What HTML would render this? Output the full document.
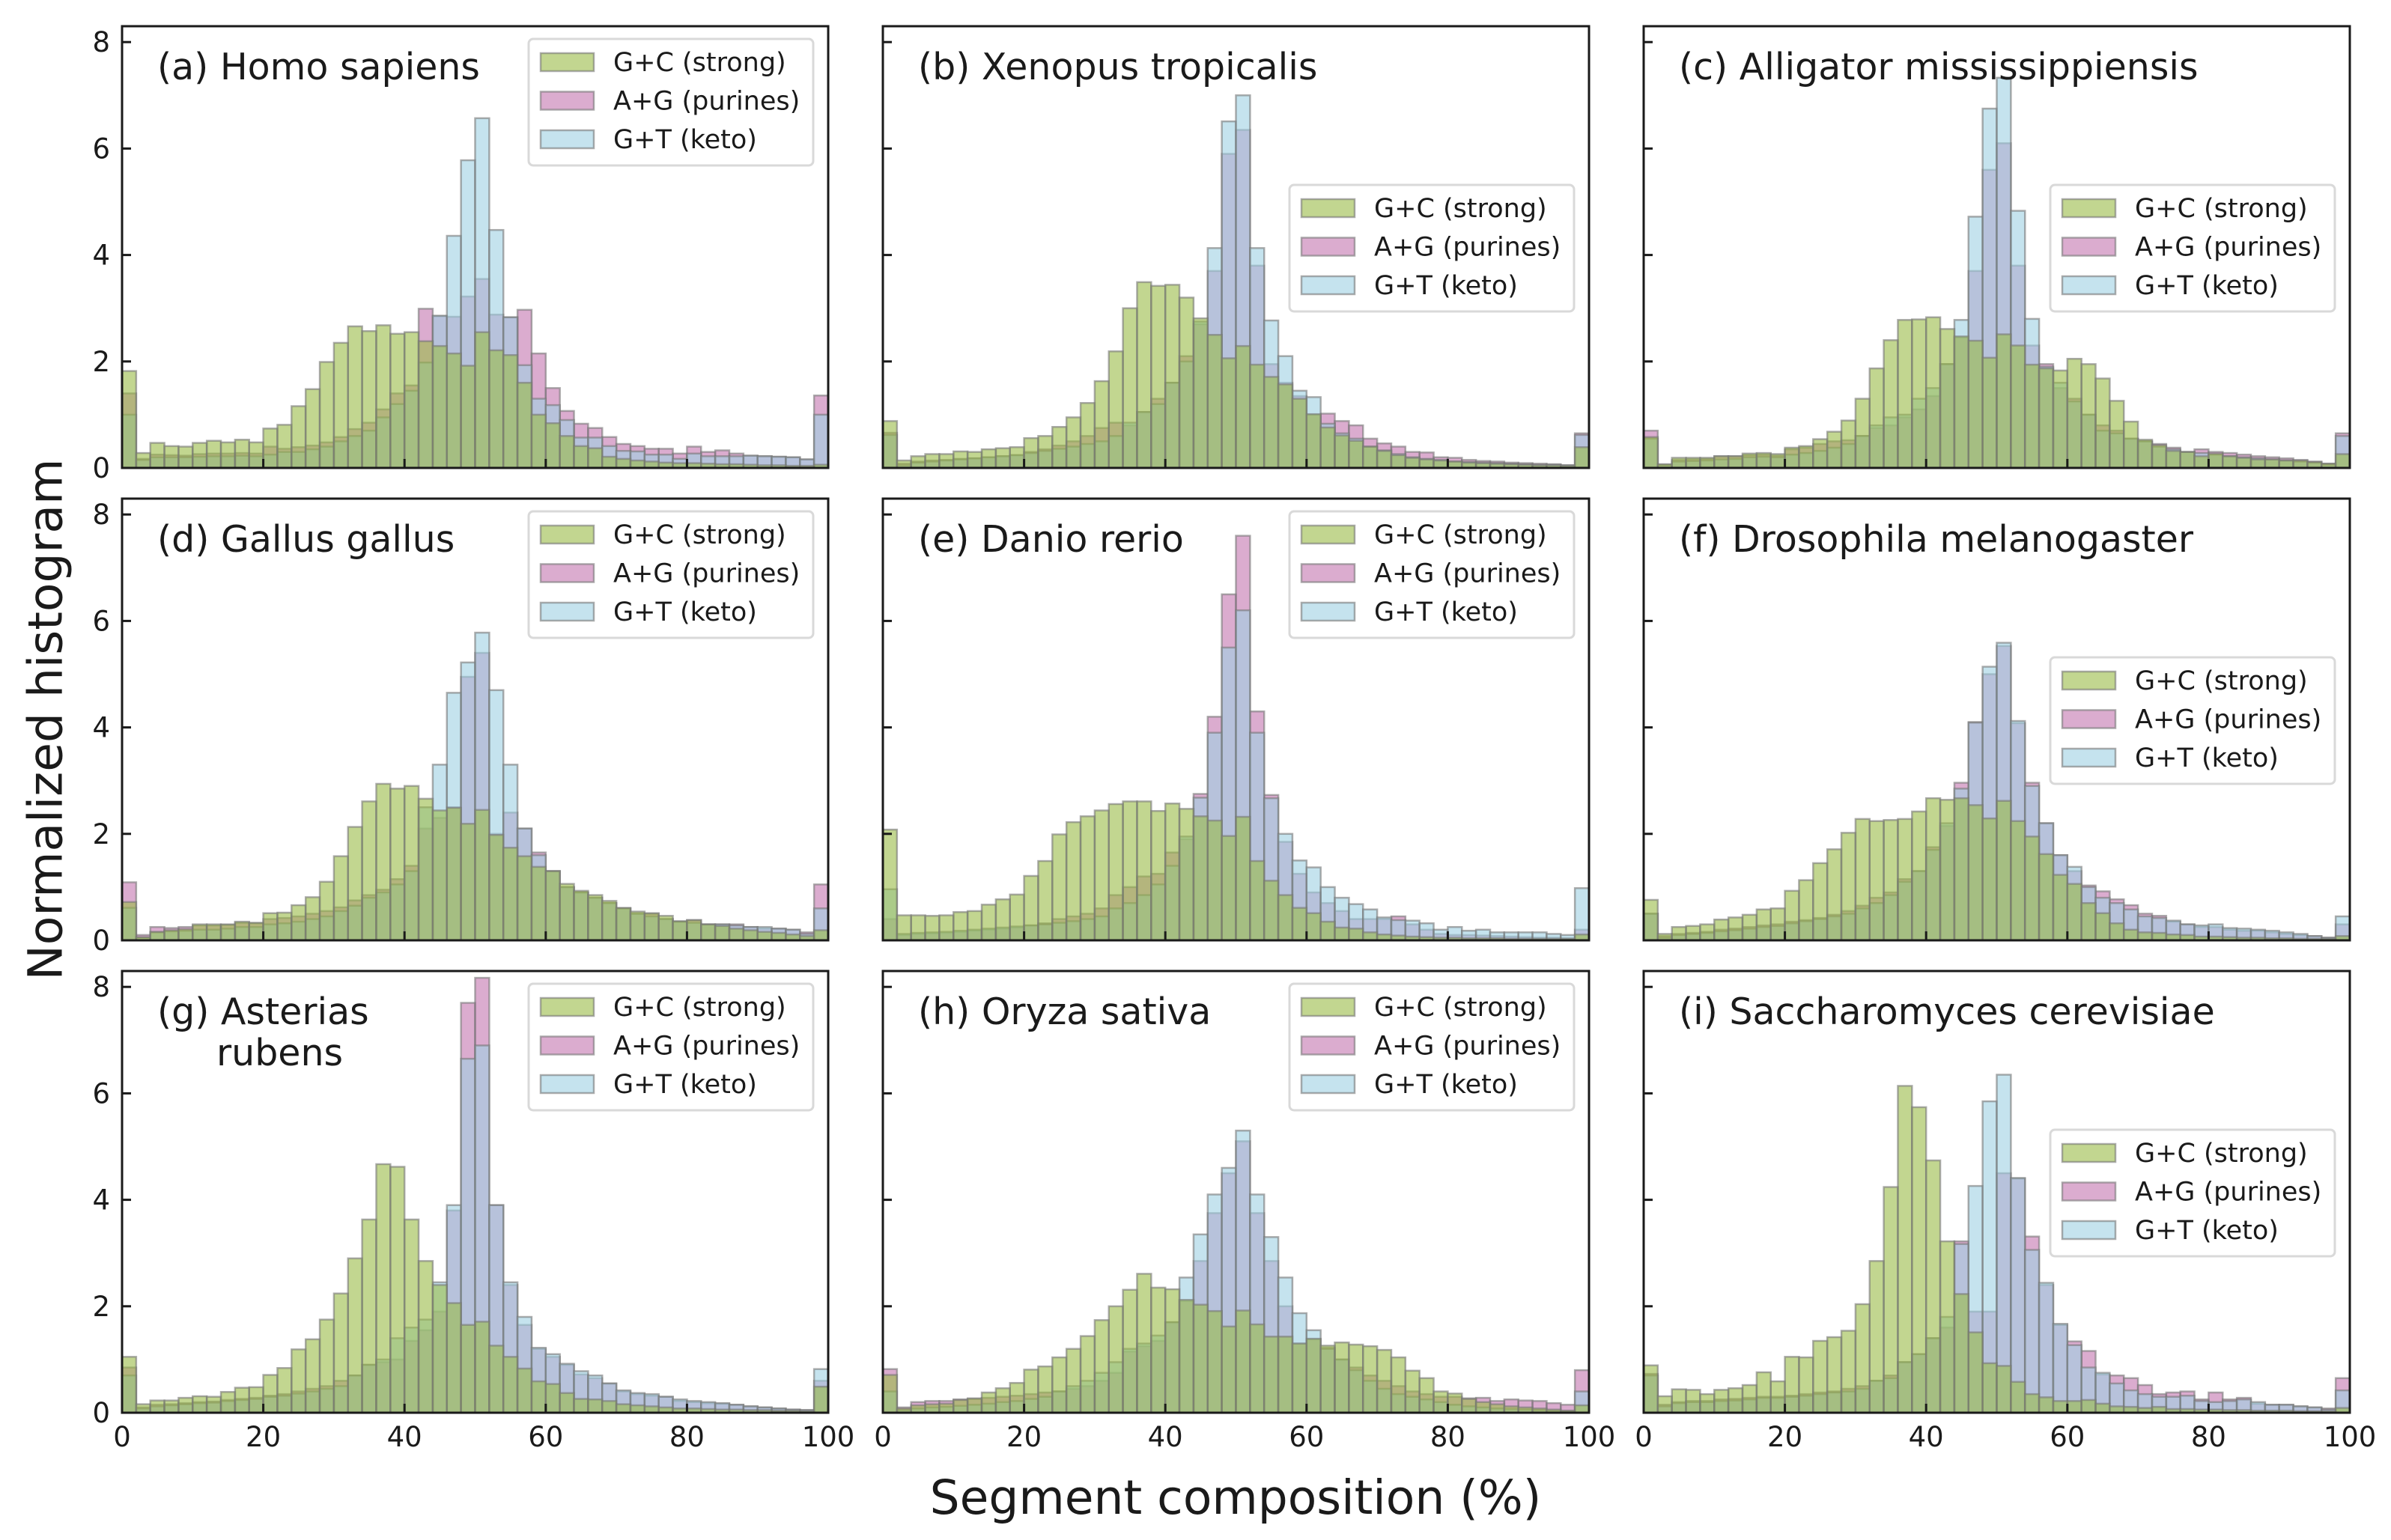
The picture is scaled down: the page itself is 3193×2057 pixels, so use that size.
<!DOCTYPE html>
<html><head><meta charset="utf-8">
<style>
html,body{margin:0;padding:0;background:#fff;}
svg{display:block;font-family:"DejaVu Sans","Liberation Sans",sans-serif;}
</style></head>
<body>
<svg id="chart" xmlns="http://www.w3.org/2000/svg" width="3193" height="2057" viewBox="0 0 3193 2057">
<rect x="0" y="0" width="3193" height="2057" fill="#fff"/>
<text x="61" y="961" font-size="63" text-anchor="middle" dominant-baseline="central" transform="rotate(-90 61 961)" fill="#1a1a1a">Normalized histogram</text>
<text x="1650" y="2022" font-size="63" text-anchor="middle" fill="#1a1a1a">Segment composition (%)</text>
</svg>
<script>
const binEdgesMin = 0, binEdgesMax = 100, binCount = 50;
const xTicks = [0,20,40,60,80,100];
const yTicks = [0,2,4,6,8];
const seriesNames = ["G+C (strong)","A+G (purines)","G+T (keto)"];
const panelTitles = ["(a) Homo sapiens","(b) Xenopus tropicalis","(c) Alligator mississippiensis","(d) Gallus gallus","(e) Danio rerio","(f) Drosophila melanogaster","(g) Asterias|rubens","(h) Oryza sativa","(i) Saccharomyces cerevisiae"];
const legendPos = ["top","mid","mid","top","top","mid","top","top","mid"];

const gc_a = [1.82,0.28,0.47,0.41,0.40,0.47,0.51,0.48,0.53,0.48,0.74,0.81,1.16,1.48,1.99,2.35,2.66,2.57,2.68,2.52,2.55,2.38,2.29,2.15,1.92,2.55,2.21,2.12,1.60,1.00,0.84,0.60,0.41,0.37,0.21,0.17,0.14,0.12,0.10,0.09,0.09,0.08,0.07,0.07,0.06,0.05,0.05,0.04,0.04,0.06];
const ag_a = [1.40,0.17,0.25,0.24,0.23,0.26,0.27,0.27,0.28,0.27,0.40,0.36,0.39,0.42,0.48,0.58,0.73,0.85,1.10,1.40,1.55,2.99,2.85,2.84,3.22,3.55,2.88,2.83,2.97,2.15,1.50,1.07,0.83,0.75,0.58,0.45,0.41,0.36,0.36,0.27,0.40,0.30,0.33,0.27,0.23,0.22,0.21,0.20,0.16,1.36];
const gt_a = [1.00,0.15,0.20,0.20,0.20,0.21,0.22,0.22,0.23,0.22,0.25,0.30,0.30,0.35,0.40,0.50,0.60,0.70,0.95,1.20,1.45,1.98,2.86,4.36,5.78,6.57,4.47,2.83,1.93,1.30,1.18,0.90,0.57,0.57,0.41,0.32,0.31,0.25,0.25,0.17,0.27,0.22,0.22,0.22,0.23,0.22,0.21,0.20,0.16,1.00];

const gc_b = [0.88,0.14,0.22,0.26,0.26,0.31,0.30,0.35,0.37,0.39,0.56,0.60,0.77,0.95,1.22,1.63,2.19,3.00,3.49,3.42,3.44,3.20,2.81,2.50,2.06,2.29,1.94,1.71,1.57,1.30,1.01,0.76,0.61,0.51,0.40,0.32,0.24,0.19,0.16,0.14,0.12,0.10,0.09,0.08,0.07,0.06,0.05,0.05,0.04,0.39];
const ag_b = [0.66,0.08,0.12,0.14,0.15,0.17,0.18,0.20,0.22,0.24,0.30,0.35,0.42,0.50,0.60,0.75,0.85,0.80,1.05,1.30,1.60,2.10,2.70,3.70,5.90,6.35,3.80,1.95,1.60,1.35,1.00,1.02,0.88,0.80,0.55,0.46,0.40,0.30,0.29,0.20,0.19,0.15,0.13,0.12,0.10,0.09,0.08,0.07,0.05,0.65];
const gt_b = [0.62,0.05,0.10,0.12,0.14,0.16,0.18,0.20,0.22,0.24,0.28,0.32,0.36,0.40,0.45,0.50,0.60,0.85,1.05,1.20,1.60,2.00,2.75,4.13,6.51,7.00,4.13,2.77,2.10,1.45,1.33,0.83,0.65,0.55,0.40,0.33,0.26,0.20,0.17,0.15,0.12,0.11,0.10,0.09,0.08,0.07,0.06,0.06,0.05,0.62];

const gc_c = [0.58,0.07,0.19,0.19,0.19,0.22,0.22,0.27,0.28,0.26,0.38,0.41,0.54,0.68,0.89,1.30,1.87,2.40,2.78,2.79,2.83,2.61,2.47,2.39,2.07,2.51,2.30,1.94,1.87,1.83,2.05,1.95,1.68,1.26,0.87,0.53,0.43,0.32,0.30,0.22,0.27,0.22,0.19,0.16,0.16,0.14,0.14,0.11,0.08,0.26];
const ag_c = [0.70,0.06,0.15,0.16,0.17,0.22,0.22,0.24,0.25,0.23,0.35,0.38,0.45,0.50,0.52,0.60,0.75,0.80,0.95,1.10,1.35,1.95,2.45,3.70,5.60,6.10,3.80,2.30,1.95,1.50,1.30,1.00,0.80,0.70,0.55,0.50,0.45,0.38,0.30,0.35,0.30,0.28,0.25,0.22,0.20,0.18,0.15,0.12,0.08,0.65];
const gt_c = [0.55,0.05,0.12,0.13,0.14,0.16,0.17,0.20,0.21,0.20,0.25,0.28,0.32,0.38,0.45,0.60,0.80,0.95,1.00,1.30,1.50,1.95,2.78,4.72,6.75,7.33,4.83,2.80,1.90,1.60,1.25,1.00,0.70,0.65,0.55,0.50,0.40,0.35,0.30,0.28,0.25,0.22,0.20,0.18,0.16,0.14,0.12,0.10,0.06,0.60];

const gc_d = [0.72,0.06,0.16,0.19,0.21,0.30,0.30,0.30,0.35,0.33,0.51,0.52,0.66,0.81,1.10,1.58,2.13,2.61,2.94,2.85,2.90,2.66,2.44,2.49,2.19,2.45,1.98,1.74,1.58,1.38,1.30,1.06,0.93,0.85,0.74,0.61,0.54,0.51,0.46,0.36,0.38,0.30,0.27,0.22,0.19,0.16,0.14,0.11,0.08,0.19];
const ag_d = [1.09,0.10,0.25,0.23,0.25,0.28,0.28,0.29,0.33,0.32,0.40,0.42,0.45,0.50,0.55,0.62,0.75,0.85,0.95,1.15,1.40,2.10,2.30,2.50,4.95,5.40,2.00,2.40,2.10,1.65,1.30,1.00,0.90,0.80,0.70,0.60,0.50,0.50,0.40,0.35,0.38,0.30,0.30,0.30,0.25,0.22,0.22,0.20,0.15,1.05];
const gt_d = [0.61,0.05,0.15,0.17,0.18,0.20,0.20,0.22,0.25,0.25,0.30,0.32,0.35,0.40,0.45,0.55,0.65,0.80,0.90,1.05,1.30,2.50,3.30,4.65,5.22,5.78,4.70,3.30,2.10,1.60,1.30,1.00,0.90,0.80,0.70,0.60,0.50,0.45,0.40,0.35,0.33,0.30,0.30,0.28,0.25,0.25,0.22,0.20,0.12,0.60];

const gc_e = [2.08,0.47,0.47,0.46,0.47,0.53,0.55,0.67,0.77,0.86,1.21,1.49,1.99,2.22,2.33,2.44,2.56,2.61,2.61,2.43,2.57,2.47,2.33,2.25,1.96,2.32,1.49,1.12,0.85,0.61,0.51,0.35,0.24,0.22,0.15,0.11,0.09,0.07,0.06,0.05,0.05,0.04,0.04,0.04,0.03,0.03,0.03,0.03,0.03,0.11];
const ag_e = [0.40,0.10,0.12,0.13,0.14,0.16,0.18,0.20,0.22,0.24,0.28,0.32,0.40,0.45,0.50,0.60,0.85,1.00,1.20,1.25,1.65,1.90,2.75,4.20,6.50,7.60,4.30,2.73,1.85,1.25,0.90,0.70,0.55,0.40,0.40,0.40,0.45,0.30,0.20,0.12,0.10,0.10,0.09,0.08,0.07,0.06,0.05,0.05,0.04,0.20];
const gt_e = [0.96,0.12,0.14,0.15,0.16,0.18,0.20,0.22,0.24,0.26,0.28,0.30,0.33,0.36,0.40,0.45,0.60,0.70,0.85,1.05,1.40,1.95,2.68,3.90,5.50,6.20,3.90,2.67,2.00,1.50,1.37,1.00,0.80,0.68,0.58,0.43,0.38,0.37,0.32,0.20,0.25,0.18,0.20,0.15,0.15,0.15,0.15,0.12,0.10,0.98];

const gc_f = [0.76,0.12,0.25,0.27,0.30,0.39,0.43,0.48,0.58,0.60,0.93,1.13,1.45,1.71,2.02,2.28,2.24,2.26,2.28,2.42,2.67,2.64,2.67,2.54,2.29,2.62,2.24,1.95,1.62,1.23,1.06,0.70,0.51,0.32,0.20,0.15,0.14,0.11,0.10,0.07,0.07,0.06,0.05,0.05,0.04,0.04,0.03,0.03,0.03,0.08];
const ag_f = [0.50,0.08,0.12,0.14,0.16,0.20,0.22,0.25,0.28,0.30,0.35,0.38,0.42,0.48,0.55,0.65,0.80,0.90,1.15,1.30,1.75,2.15,2.96,4.10,5.00,5.53,4.08,2.96,2.20,1.60,1.30,1.03,0.92,0.77,0.66,0.50,0.46,0.35,0.30,0.25,0.25,0.20,0.18,0.18,0.15,0.12,0.10,0.08,0.05,0.30];
const gt_f = [0.50,0.05,0.10,0.12,0.14,0.17,0.19,0.22,0.25,0.27,0.32,0.36,0.40,0.45,0.50,0.60,0.70,0.85,1.10,1.30,1.70,2.20,2.85,4.09,5.14,5.59,4.12,2.90,2.20,1.60,1.38,1.00,0.80,0.70,0.58,0.45,0.42,0.37,0.30,0.28,0.30,0.23,0.22,0.20,0.18,0.15,0.12,0.08,0.05,0.45];

const gc_g = [1.05,0.16,0.23,0.23,0.28,0.31,0.30,0.39,0.47,0.48,0.71,0.84,1.19,1.38,1.75,2.24,2.90,3.63,4.67,4.62,3.63,2.85,2.40,2.06,1.65,1.71,1.26,1.05,0.83,0.59,0.54,0.37,0.26,0.25,0.22,0.16,0.14,0.12,0.10,0.08,0.08,0.07,0.06,0.06,0.05,0.05,0.04,0.04,0.03,0.49];
const ag_g = [0.85,0.10,0.15,0.16,0.18,0.20,0.21,0.24,0.26,0.28,0.32,0.35,0.40,0.45,0.50,0.60,0.70,0.90,0.95,1.00,1.35,1.55,1.90,3.80,7.70,8.17,3.90,2.40,1.65,1.20,1.05,0.90,0.72,0.65,0.55,0.40,0.35,0.32,0.30,0.22,0.20,0.18,0.17,0.15,0.12,0.10,0.08,0.06,0.05,0.60];
const gt_g = [0.70,0.08,0.12,0.14,0.16,0.18,0.19,0.22,0.24,0.26,0.30,0.32,0.36,0.40,0.45,0.50,0.70,0.90,1.00,1.40,1.60,1.75,2.45,3.90,6.65,6.90,3.90,2.45,1.80,1.22,1.10,0.92,0.78,0.70,0.55,0.42,0.37,0.35,0.30,0.25,0.22,0.20,0.18,0.15,0.12,0.10,0.08,0.06,0.05,0.82];

const gc_h = [0.71,0.08,0.14,0.16,0.17,0.24,0.27,0.38,0.46,0.56,0.81,0.87,1.04,1.20,1.44,1.74,2.00,2.31,2.61,2.35,2.32,2.12,2.03,1.91,1.62,1.92,1.66,1.43,1.43,1.30,1.39,1.26,1.32,1.28,1.25,1.18,1.04,0.79,0.65,0.40,0.36,0.26,0.20,0.16,0.12,0.10,0.08,0.06,0.04,0.14];
const ag_h = [0.82,0.10,0.20,0.22,0.22,0.25,0.26,0.28,0.30,0.32,0.35,0.38,0.40,0.45,0.50,0.60,0.75,1.15,1.25,1.35,1.70,2.10,2.85,3.75,4.50,5.10,3.75,2.85,2.00,1.30,1.38,1.22,1.00,0.85,0.70,0.60,0.50,0.40,0.35,0.30,0.30,0.27,0.28,0.22,0.25,0.23,0.22,0.18,0.15,0.80];
const gt_h = [0.40,0.05,0.08,0.10,0.11,0.13,0.15,0.17,0.20,0.22,0.26,0.30,0.40,0.50,0.60,0.75,0.95,1.20,1.30,1.45,1.70,2.54,3.35,4.10,4.60,5.30,4.10,3.30,2.54,1.87,1.55,1.20,1.00,0.80,0.60,0.45,0.35,0.30,0.25,0.20,0.15,0.12,0.10,0.08,0.07,0.06,0.05,0.04,0.03,0.40];

const gc_i = [0.89,0.31,0.44,0.43,0.35,0.43,0.46,0.52,0.76,0.59,1.05,1.04,1.35,1.42,1.54,2.04,2.85,4.24,6.14,5.74,4.74,3.22,2.23,1.51,0.93,0.88,0.58,0.35,0.29,0.22,0.22,0.24,0.17,0.12,0.11,0.09,0.11,0.07,0.07,0.06,0.06,0.05,0.05,0.04,0.04,0.04,0.03,0.03,0.03,0.09];
const ag_i = [0.73,0.15,0.20,0.22,0.22,0.25,0.26,0.28,0.30,0.30,0.32,0.35,0.38,0.40,0.45,0.50,0.60,0.70,0.95,1.10,1.40,1.60,3.22,1.90,1.90,4.50,4.40,3.31,2.40,1.65,1.34,1.16,0.72,0.70,0.65,0.52,0.35,0.38,0.40,0.25,0.38,0.25,0.28,0.17,0.15,0.15,0.12,0.10,0.08,0.65];
const gt_i = [0.70,0.12,0.18,0.20,0.20,0.22,0.23,0.25,0.28,0.28,0.30,0.32,0.35,0.38,0.40,0.45,0.60,0.65,0.95,1.10,1.40,1.80,3.17,4.26,5.85,6.35,4.41,3.06,2.44,1.67,1.27,0.85,0.75,0.55,0.42,0.35,0.30,0.30,0.32,0.22,0.20,0.22,0.25,0.20,0.15,0.15,0.12,0.10,0.06,0.42];

const panelGC = [gc_a,gc_b,gc_c,gc_d,gc_e,gc_f,gc_g,gc_h,gc_i];
const panelAG = [ag_a,ag_b,ag_c,ag_d,ag_e,ag_f,ag_g,ag_h,ag_i];
const panelGT = [gt_a,gt_b,gt_c,gt_d,gt_e,gt_f,gt_g,gt_h,gt_i];

const NS = "http://www.w3.org/2000/svg";
const svg = document.getElementById("chart");
const colLeft = [163,1179,2195], rowTop = [35,666,1297];
const PW = 943, PH = 590, YMAX = 590/71.1;
const fills = {gc:"#99bb46", ag:"#c375af", gt:"#9ed0e3"};
const ids = ["a","b","c","d","e","f","g","h","i"];

function mk(tag, attrs, parent){
  const e = document.createElementNS(NS, tag);
  for (const k in attrs) e.setAttribute(k, attrs[k]);
  parent.appendChild(e);
  return e;
}

for (let p = 0; p < 9; p++) {
  const L = colLeft[p%3], T = rowTop[Math.floor(p/3)];
  const xs = v => L + (v - binEdgesMin)/(binEdgesMax - binEdgesMin)*PW;
  const ys = v => T + PH - v/YMAX*PH;
  const g = mk("g", {}, svg);
  
  
  const clipId = "clip" + p;
  const cp = mk("clipPath", {id: clipId}, g);
  mk("rect", {x:L, y:T, width:PW, height:PH}, cp);
  const bars = mk("g", {"clip-path":"url(#"+clipId+")"}, g);
  
  
  const seriesList = [["ag", panelAG[p]], ["gt", panelGT[p]], ["gc", panelGC[p]]];
  const bw = (binEdgesMax - binEdgesMin)/binCount;
  for (const [key, arr] of seriesList) {
    for (let i = 0; i < arr.length; i++) {
      const x0 = xs(binEdgesMin + i*bw), x1 = xs(binEdgesMin + (i+1)*bw);
      const r = mk("rect", {x:x0, y:ys(arr[i]), width:x1-x0, height:ys(0)-ys(arr[i]),
        fill:fills[key], "fill-opacity":0.6, stroke:"#777", "stroke-opacity":0.6, "stroke-width":2.5}, bars);
      
      
    }
  }
  for (const t of yTicks) {
    const tk = mk("line", {x1:L, x2:L+12, y1:ys(t), y2:ys(t), stroke:"#1a1a1a", "stroke-width":3}, g);
    
    
    if (p%3 === 0) {
      const tl = mk("text", {x:L-16, y:ys(t)+13, "font-size":37, "text-anchor":"end", fill:"#1a1a1a"}, g);
      tl.textContent = t;
      
      
    }
  }
  for (const t of xTicks) {
    const tk = mk("line", {x1:xs(t), x2:xs(t), y1:T+PH, y2:T+PH-12, stroke:"#1a1a1a", "stroke-width":3}, g);
    
    
    if (p >= 6) {
      const tl = mk("text", {x:xs(t), y:T+PH+45, "font-size":37, "text-anchor":"middle", fill:"#1a1a1a"}, g);
      tl.textContent = t;
      
      
    }
  }
  const frame = mk("rect", {x:L, y:T, width:PW, height:PH, fill:"none", stroke:"#1a1a1a", "stroke-width":3}, g);
  
  
  const parts = panelTitles[p].split("|");
  const tt = mk("text", {x:L+47, y:T+71, "font-size":49, fill:"#1a1a1a"}, g);
  tt.textContent = parts[0];
  
  
  if (parts[1]) {
    const t2 = mk("text", {x:L+126, y:T+126, "font-size":49, fill:"#1a1a1a"}, g);
    t2.textContent = parts[1];
    
    
  }
  const lx = L + 543, ly = T + (legendPos[p] === "top" ? 17 : 212);
  const lg = mk("g", {}, g);
  
  
  mk("rect", {x:lx, y:ly, width:380, height:169, rx:6, fill:"#fff", "fill-opacity":0.85, stroke:"#d9d9d9", "stroke-width":3}, lg);
  const keys = ["gc","ag","gt"];
  for (let k = 0; k < 3; k++) {
    const cy = ly + 31 + k*51.5;
    const sw = mk("rect", {x:lx+16, y:cy-12, width:71, height:24, fill:fills[keys[k]], "fill-opacity":0.6, stroke:"#777", "stroke-opacity":0.6, "stroke-width":2.5}, lg);
    
    
    const lt = mk("text", {x:lx+113, y:cy+12, "font-size":35, fill:"#1a1a1a"}, lg);
    lt.textContent = seriesNames[k];
    
    
  }
}
</script>
</body></html>
